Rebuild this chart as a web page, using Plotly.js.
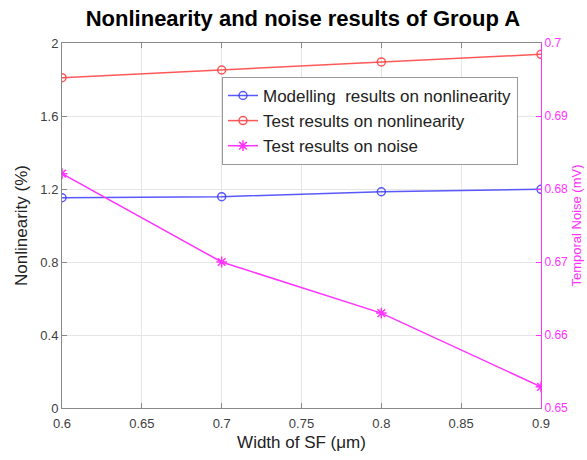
<!DOCTYPE html>
<html><head><meta charset="utf-8">
<script src="https://cdn.plot.ly/plotly-3.0.1.min.js"></script>
<style>body{margin:0;background:#fff}#c{width:587px;height:460px}</style>
</head><body><div id="c"></div>
<script>
var widths = [0.6, 0.7, 0.8, 0.9];
var modelNonlin = [1.152, 1.158, 1.185, 1.198];
var testNonlin = [1.81, 1.852, 1.896, 1.938];
var testNoise = [0.6821, 0.6700, 0.6630, 0.6529];

var font = 'Arial, "Liberation Sans", sans-serif';
var traces = [
  {x: widths, y: modelNonlin, name: 'Modelling\u00a0 results on nonlinearity', mode: 'lines+markers',
   line: {color: 'rgba(60,60,255,0.85)', width: 1.5}, marker: {symbol: 'circle-open', size: 8, color: 'rgba(60,60,255,0.85)', line: {width: 1.5}}},
  {x: widths, y: testNonlin, name: 'Test results on nonlinearity', mode: 'lines+markers',
   line: {color: 'rgba(255,70,70,0.9)', width: 1.5}, marker: {symbol: 'circle-open', size: 8, color: 'rgba(255,70,70,0.9)', line: {width: 1.5}}},
  {x: widths, y: testNoise, name: 'Test results on noise', mode: 'lines+markers', yaxis: 'y2',
   line: {color: '#ff33ff', width: 1.5}, marker: {symbol: 'asterisk-open', size: 9, color: '#ff33ff', line: {width: 1.5, color: '#ff33ff'}}}
];
var layout = {
  width: 587, height: 460,
  margin: {l: 62, r: 46, t: 43, b: 52},
  paper_bgcolor: '#fff', plot_bgcolor: '#fff',
  font: {family: font, color: '#404040'},
  title: {text: '<b>Nonlinearity and noise results of Group A</b>', font: {family: font, size: 22, color: '#000'},
          x: 0.516, xanchor: 'center', y: 0.978, yanchor: 'top', yref: 'container'},
  xaxis: {range: [0.6, 0.9], dtick: 0.05, tick0: 0.6, ticks: 'inside', ticklen: 5, tickcolor: '#888',
          showline: true, linecolor: '#888', linewidth: 1, mirror: 'ticks', showgrid: true, gridcolor: '#e6e6e6',
          zeroline: false, tickfont: {size: 13, color: '#404040'}, ticklabelstandoff: 3,
          title: {text: 'Width of SF (\u03bcm)', font: {size: 17, color: '#222'}, standoff: 6}},
  yaxis: {range: [0, 2], dtick: 0.4, tick0: 0, ticks: 'inside', ticklen: 5, tickcolor: '#888',
          showline: true, linecolor: '#888', linewidth: 1, showgrid: true, gridcolor: '#e6e6e6', zeroline: false,
          tickfont: {size: 13, color: '#404040'},
          title: {text: 'Nonlinearity (%)', font: {size: 17, color: '#222'}, standoff: 8}},
  yaxis2: {overlaying: 'y', side: 'right', range: [0.65, 0.70], dtick: 0.01, tick0: 0.65, ticks: 'inside', ticklen: 5,
          tickcolor: '#ff33ff', showline: true, linecolor: '#ff33ff', linewidth: 1, showgrid: false, zeroline: false,
          tickfont: {size: 12, color: '#ff33ff'},
          title: {text: 'Temporal Noise (mV)', font: {size: 13, color: '#ff33ff'}, standoff: 4}},
  legend: {x: 0.334, y: 0.907, xanchor: 'left', yanchor: 'top', bgcolor: '#fff', bordercolor: '#999', borderwidth: 1,
          font: {size: 17, color: '#222'}, tracegroupgap: 0, itemwidth: 30},
  showlegend: true
};
Plotly.newPlot('c', traces, layout, {staticPlot: true});
</script></body></html>
